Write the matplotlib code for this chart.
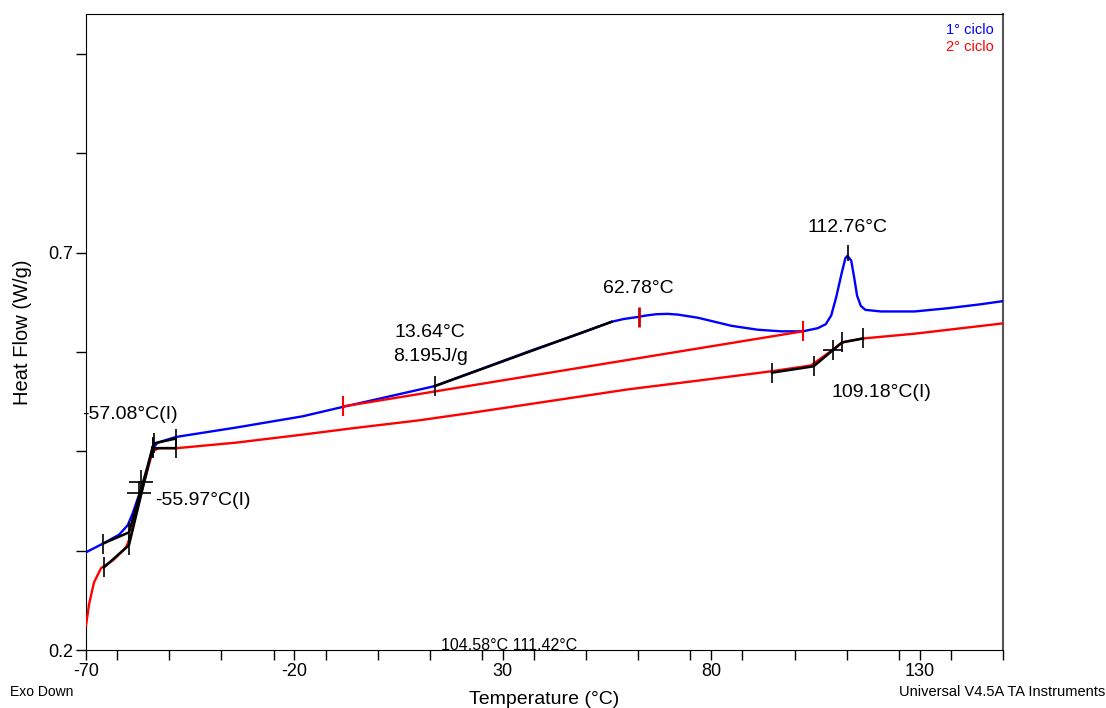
import matplotlib
matplotlib.use("Agg")
import matplotlib.pyplot as plt
from matplotlib.ticker import MultipleLocator, FixedLocator

plt.rcParams["font.family"] = ["Liberation Sans", "DejaVu Sans"]
plt.rcParams["axes.unicode_minus"] = False

# ── 1° ciclo (blue) ──
temp_c1 = [-70.0, -65.9, -62.1, -60.0, -58.8, -57.3, -55.6, -54.0, -52.8, -48.5,
           -46.1, -33.9, -18.1, -8.3, 1.0, 13.6, 25.0, 36.9, 48.9, 56.1,
           59.0, 62.3, 64.5, 66.8, 69.5, 72.1, 76.9, 84.8, 91.2, 96.8,
           102.0, 105.6, 107.5, 108.8, 110.0, 111.3, 112.2, 112.7, 113.6, 114.3,
           115.0, 115.9, 117.0, 120.7, 128.8, 136.7, 144.6, 150.0]
hf_c1 = [0.323, 0.334, 0.345, 0.357, 0.372, 0.395, 0.420, 0.454, 0.461, 0.468,
         0.470, 0.480, 0.494, 0.506, 0.517, 0.532, 0.554, 0.577, 0.599, 0.613,
         0.6165, 0.619, 0.621, 0.6225, 0.623, 0.622, 0.618, 0.608, 0.603, 0.601,
         0.601, 0.605, 0.610, 0.621, 0.644, 0.674, 0.693, 0.696, 0.690, 0.669,
         0.646, 0.633, 0.628, 0.626, 0.626, 0.630, 0.635, 0.639]

# ── 2° ciclo (red) ──
temp_c2 = [-70.0, -69.3, -68.1, -66.4, -63.5, -60.4, -59.2, -58.0, -56.1, -54.4,
           -53.7, -52.5, -48.2, -33.9, -18.1, -6.1, 9.9, 21.9, 60.1, 76.9,
           88.9, 94.8, 103.9, 106.3, 108.7, 111.1, 112.1, 116.4, 128.8, 150.0]
hf_c2 = [0.231, 0.257, 0.285, 0.303, 0.313, 0.329, 0.345, 0.373, 0.411, 0.443,
         0.451, 0.454, 0.454, 0.461, 0.471, 0.479, 0.489, 0.498, 0.528, 0.539,
         0.547, 0.551, 0.558, 0.567, 0.576, 0.586, 0.588, 0.592, 0.598, 0.611]

# ── analysis marks ──
# glass transition near -57 °C: tangent segments (x, y)
tg1_c1_x = [-65.9, -59.7, -53.7, -48.5]
tg1_c1_y = [0.334, 0.348, 0.460, 0.466]
tg1_c2_x = [-65.7, -59.7, -54.0, -54.0, -48.5]
tg1_c2_y = [0.304, 0.332, 0.456, 0.454, 0.454]
tg1_mid_x = [-56.8, -57.3]
tg1_mid_y = [0.412, 0.398]

# relaxation hump of 1° ciclo: baseline and partial area line
base_x = [-8.3, 102.0]
base_y = [0.5065, 0.601]
area_x = [13.64, 56.1]
area_y = [0.532, 0.613]
hump_peak = (62.78, 0.6196)
melt_peak = (112.76, 0.700)

# glass transition near 109 °C on 2° ciclo
tg2_x = [94.6, 104.58, 111.42, 116.4]
tg2_y = [0.549, 0.557, 0.587, 0.592]
tg2_mid = (109.18, 0.577)

BLUE = "#0000ff"
RED = "#ff0000"

fig = plt.figure(figsize=(11.06, 7.08), dpi=100)
ax = fig.add_axes([0.0778, 0.0819, 0.829, 0.898])

ax.plot(temp_c1, hf_c1, color=BLUE, lw=1.7, zorder=3)
ax.plot(temp_c2, hf_c2, color=RED, lw=1.7, zorder=3)

# baseline (red) with its end ticks
ax.plot(base_x, base_y, color=RED, lw=1.7, zorder=4)
ax.plot(base_x, base_y, ls="none", marker="|", ms=14, mew=1.5, color=RED, zorder=5)
ax.plot([hump_peak[0]], [hump_peak[1]], ls="none", marker="|", ms=14, mew=2, color="#cc0000", zorder=5)
ax.plot(area_x, area_y, color="black", lw=1.8, zorder=5)
ax.plot(area_x[:1], area_y[:1], ls="none", marker="|", ms=14, mew=1.2, color="black", zorder=6)
ax.plot([melt_peak[0]], [melt_peak[1]], ls="none", marker="|", ms=11, mew=1.2, color="black", zorder=6)

for xs, ys in [(tg1_c1_x, tg1_c1_y), (tg1_c2_x, tg1_c2_y), (tg2_x, tg2_y)]:
    ax.plot(xs, ys, color="black", lw=1.8, zorder=5)
    ax.plot(xs, ys, ls="none", marker="|", ms=14, mew=1.2, color="black", zorder=6)
ax.plot(tg1_mid_x, tg1_mid_y, ls="none", marker="+", ms=17, mew=1.2, color="black", zorder=6)
ax.plot([tg2_mid[0]], [tg2_mid[1]], ls="none", marker="+", ms=14, mew=1.2, color="black", zorder=6)

# labels
lab = dict(fontsize=14, color="black", zorder=7)
ax.text(-71.0, 0.4965, "-57.08°C(I)", ha="left", va="center", clip_on=False, **lab)
ax.text(-53.5, 0.3884, "-55.97°C(I)", ha="left", va="center", **lab)
ax.text(12.6, 0.5995, "13.64°C", ha="center", va="center", **lab)
ax.text(12.6, 0.5695, "8.195J/g", ha="center", va="center", **lab)
ax.text(62.5, 0.6548, "62.78°C", ha="center", va="center", **lab)
ax.text(112.8, 0.7314, "112.76°C", ha="center", va="center", **lab)
ax.text(120.9, 0.5241, "109.18°C(I)", ha="center", va="center", **lab)
ax.text(31.6, 0.2005, "104.58°C 111.42°C", ha="center", va="baseline", fontsize=11.5, zorder=7)

ax.set_xlim(-70, 150)
ax.set_ylim(0.2, 1.0)
ax.xaxis.set_major_locator(FixedLocator([-70, -20, 30, 80, 130]))
ax.xaxis.set_minor_locator(MultipleLocator(12.5))
ax.yaxis.set_major_locator(FixedLocator([0.2, 0.7]))
ax.yaxis.set_minor_locator(FixedLocator([0.325, 0.45, 0.575, 0.825, 0.95]))
ax.tick_params(which="both", direction="out", length=7, width=1, labelsize=13, pad=2)
ax.tick_params(top=False, right=False)
ax.yaxis.set_major_formatter(plt.FuncFormatter(lambda v, p: f"{v:.1f}"))

for s in ["left", "bottom", "top"]:
    ax.spines[s].set_color("black")
ax.spines["right"].set_color("#555555")
ax.spines["right"].set_linewidth(1.5)

ax.set_xlabel("Temperature (°C)", fontsize=14, labelpad=8)
ax.set_ylabel("Heat Flow (W/g)", fontsize=14.5, labelpad=12)

fig.text(10 / 1106, 1 - 692 / 708, "Exo Down", ha="left", va="center", fontsize=10)
fig.text(1105 / 1106, 1 - 692 / 708, "Universal V4.5A TA Instruments", ha="right", va="center", fontsize=10.5)
fig.text(994 / 1106, 1 - 30 / 708, "1° ciclo", ha="right", va="center", fontsize=10.5, color=BLUE)
fig.text(994 / 1106, 1 - 47 / 708, "2° ciclo", ha="right", va="center", fontsize=10.5, color=RED)

fig.savefig("out.png", dpi=100)
